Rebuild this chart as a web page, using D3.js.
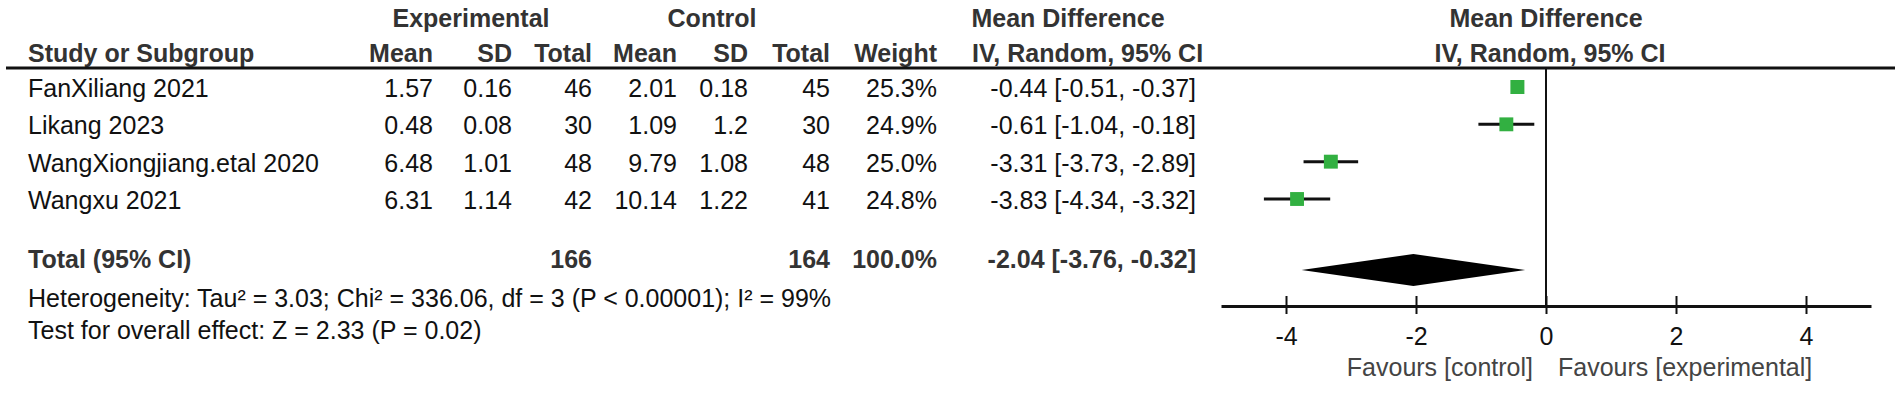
<!doctype html>
<html lang="en">
<head>
  <meta charset="utf-8">
  <title>Forest plot</title>
  <style>
    * { margin: 0; padding: 0; box-sizing: border-box; }
    body { background: #fff; }
    svg text { font-family: "Liberation Sans", Arial, Helvetica, sans-serif; font-size: 25px; fill: #111; }
    .hd { font-weight: bold; fill: #333; }
    .fav { fill: #444; }
  </style>
</head>
<body>
  <div id="container"></div>
  <script src="https://cdn.jsdelivr.net/npm/d3@7"></script>
  <script>
    const W = 1901, H = 393;

    // data
    const studies  = ['FanXiliang 2021', 'Likang 2023', 'WangXiongjiang.etal 2020', 'Wangxu 2021'];
    const expMean  = [1.57, 0.48, 6.48, 6.31];
    const expSD    = [0.16, 0.08, 1.01, 1.14];
    const expN     = [46, 30, 48, 42];
    const ctlMean  = [2.01, 1.09, 9.79, 10.14];
    const ctlSD    = [0.18, 1.2, 1.08, 1.22];
    const ctlN     = [45, 30, 48, 41];
    const weights  = [25.3, 24.9, 25.0, 24.8];
    const md       = [-0.44, -0.61, -3.31, -3.83];
    const ciLo     = [-0.51, -1.04, -3.73, -4.34];
    const ciHi     = [-0.37, -0.18, -2.89, -3.32];
    const total    = { expN: 166, ctlN: 164, weight: 100.0, md: -2.04, lo: -3.76, hi: -0.32 };
    const axisTicks = [-4, -2, 0, 2, 4];
    const hetText  = 'Heterogeneity: Tau² = 3.03; Chi² = 336.06, df = 3 (P < 0.00001); I² = 99%';
    const testText = 'Test for overall effect: Z = 2.33 (P = 0.02)';

    const svg = d3.select('#container').append('svg').attr('width', W).attr('height', H);

    // column right edges
    const col = { study: 28, eMean: 433, eSD: 512, eN: 592, cMean: 677, cSD: 748, cN: 830, wt: 937, ci: 1196 };

    const x = d3.scaleLinear().domain([-5, 5]).range([1221, 1871]);
    const rowY = d3.scaleLinear().domain([0, 3]).range([87, 199]);
    const totalY = 270;
    const lineY = 68, axisY = 306;
    const size = d3.scaleSqrt().domain([0, 25.3]).range([0, 14]);

    const txt = (t, xx, yy, anchor, cls) =>
      svg.append('text').attr('x', xx).attr('y', yy).attr('text-anchor', anchor || 'start')
        .attr('class', cls || null).text(t);

    // headers
    txt('Experimental', 471, 27, 'middle', 'hd');
    txt('Control', 712, 27, 'middle', 'hd');
    txt('Mean Difference', 1068, 27, 'middle', 'hd');
    txt('Mean Difference', 1546, 27, 'middle', 'hd');
    txt('Study or Subgroup', col.study, 62, 'start', 'hd');
    txt('Mean', col.eMean, 62, 'end', 'hd');
    txt('SD', col.eSD, 62, 'end', 'hd');
    txt('Total', col.eN, 62, 'end', 'hd');
    txt('Mean', col.cMean, 62, 'end', 'hd');
    txt('SD', col.cSD, 62, 'end', 'hd');
    txt('Total', col.cN, 62, 'end', 'hd');
    txt('Weight', col.wt, 62, 'end', 'hd');
    txt('IV, Random, 95% CI', 972, 62, 'start', 'hd');
    txt('IV, Random, 95% CI', 1550, 62, 'middle', 'hd');

    svg.append('line').attr('x1', 6).attr('x2', 1895).attr('y1', lineY).attr('y2', lineY)
      .attr('stroke', '#111').attr('stroke-width', 3);

    // study rows
    studies.forEach((s, i) => {
      const yb = rowY(i) + 10;
      txt(s, col.study, yb);
      txt(expMean[i], col.eMean, yb, 'end');
      txt(expSD[i], col.eSD, yb, 'end');
      txt(expN[i], col.eN, yb, 'end');
      txt(ctlMean[i], col.cMean, yb, 'end');
      txt(ctlSD[i], col.cSD, yb, 'end');
      txt(ctlN[i], col.cN, yb, 'end');
      txt(weights[i].toFixed(1) + '%', col.wt, yb, 'end');
      txt(`${md[i].toFixed(2)} [${ciLo[i].toFixed(2)}, ${ciHi[i].toFixed(2)}]`, col.ci, yb, 'end');
    });

    // total row
    const tb = 268;
    txt('Total (95% CI)', col.study, tb, 'start', 'hd');
    txt(total.expN, col.eN, tb, 'end', 'hd');
    txt(total.ctlN, col.cN, tb, 'end', 'hd');
    txt(total.weight.toFixed(1) + '%', col.wt, tb, 'end', 'hd');
    txt(`${total.md.toFixed(2)} [${total.lo.toFixed(2)}, ${total.hi.toFixed(2)}]`, col.ci, tb, 'end', 'hd');
    txt(hetText, col.study, 307);
    txt(testText, col.study, 339);

    // zero line
    svg.append('line').attr('x1', x(0)).attr('x2', x(0)).attr('y1', lineY).attr('y2', axisY)
      .attr('stroke', '#111').attr('stroke-width', 2);

    // CI whiskers and squares
    const g = svg.append('g');
    g.selectAll('line.ci').data(studies).join('line').attr('class', 'ci')
      .attr('x1', (d, i) => x(ciLo[i])).attr('x2', (d, i) => x(ciHi[i]))
      .attr('y1', (d, i) => rowY(i)).attr('y2', (d, i) => rowY(i))
      .attr('stroke', '#111').attr('stroke-width', 3);
    g.selectAll('rect').data(studies).join('rect')
      .attr('x', (d, i) => x(md[i]) - size(weights[i]) / 2)
      .attr('y', (d, i) => rowY(i) - size(weights[i]) / 2)
      .attr('width', (d, i) => size(weights[i]))
      .attr('height', (d, i) => size(weights[i]))
      .attr('fill', '#32b041');

    // diamond
    svg.append('path')
      .attr('d', `M${x(total.lo)},${totalY} L${x(total.md)},${totalY - 16} L${x(total.hi)},${totalY} L${x(total.md)},${totalY + 16} Z`)
      .attr('fill', '#000');

    // axis
    const ax = svg.append('g').attr('transform', `translate(0,${axisY})`)
      .call(d3.axisBottom(x).tickValues(axisTicks).tickFormat(d => String(d))
        .tickSize(8).tickPadding(13).tickSizeOuter(0));
    ax.select('.domain').attr('stroke', '#111').attr('stroke-width', 3);
    ax.selectAll('.tick line').attr('y1', -10).attr('y2', 8).attr('stroke', '#111').attr('stroke-width', 2);
    ax.selectAll('.tick text').attr('font-size', 25).attr('font-family', null).style('fill', '#111');

    txt('Favours [control]', x(0) - 13, 376, 'end', 'fav');
    txt('Favours [experimental]', x(0) + 12, 376, 'start', 'fav');
  </script>
</body>
</html>
